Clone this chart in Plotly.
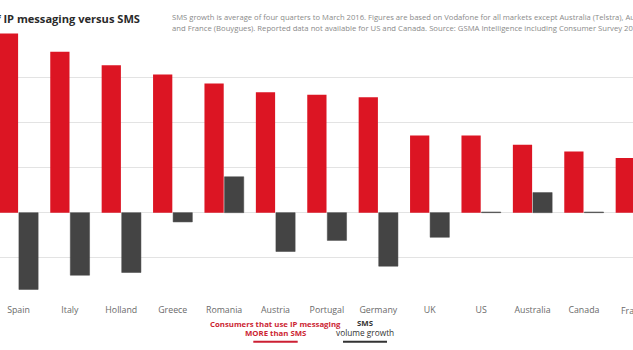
import plotly.graph_objects as go

categories = ["Spain", "Italy", "Holland", "Greece", "Romania", "Austria", "Portugal",
              "Germany", "UK", "US", "Australia", "Canada", "France"]
ip_more_than_sms = [79.3, 71.3, 65.3, 61.2, 57.2, 53.3, 52.2, 51.1, 34.2, 34.2, 30.1, 27.1, 24.2]
sms_volume_growth = [-34.0, -27.7, -26.5, -4.1, 15.9, -17.2, -12.3, -23.7, -10.9, 0.3, 8.9, 0.3, None]

W, H = 633, 350
ML, MR, MT, MB = 0, 0, 32, 47
plot_h = H - MT - MB
X_RANGE = [-0.36, 11.955]

def py(y):
    return (H - MB - y) / plot_h

def px(x):
    return x / W

def cat_paper(i):
    return (i - X_RANGE[0]) / (X_RANGE[1] - X_RANGE[0])

RED = "#dc1523"
GRAY = "#444444"
FONT = "Open Sans"

fig = go.Figure()
fig.add_trace(go.Bar(x=categories, y=ip_more_than_sms, marker=dict(color=RED, line=dict(width=0)),
                     name="Consumers that use IP messaging MORE than SMS"))
fig.add_trace(go.Bar(x=categories, y=sms_volume_growth,
                     marker=dict(color=GRAY, line=dict(color=GRAY, width=0.5)),
                     name="SMS volume growth"))

ann = []
# Title (cropped at left)
ann.append(dict(text="<b>Use of IP messaging versus SMS</b>", x=px(142), y=py(18.5), xref="paper", yref="paper",
                xanchor="right", yanchor="middle", showarrow=False,
                font=dict(family=FONT, size=11.1, color="#2a2a2a")))
note1 = ("SMS growth is average of four quarters to March 2016. Figures are based on Vodafone for all markets "
         "except Australia (Telstra), Austria (A1)")
note2 = ("and France (Bouygues). Reported data not available for US and Canada. Source: GSMA Intelligence "
         "including Consumer Survey 2015")
ann.append(dict(text=note1, x=px(170), y=py(16.7), xref="paper", yref="paper", xanchor="left", yanchor="middle",
                showarrow=False, font=dict(family=FONT, size=7.65, color="#8a8a8a")))
ann.append(dict(text=note2, x=px(170), y=py(27.8), xref="paper", yref="paper", xanchor="left", yanchor="middle",
                showarrow=False, font=dict(family=FONT, size=7.7, color="#8a8a8a")))
# France label lies just past the cropped edge of the axis
ann.append(dict(text=categories[-1], x=cat_paper(len(categories) - 1), y=py(310.7), xref="paper", yref="paper",
                xanchor="center", yanchor="middle", showarrow=False,
                font=dict(family=FONT, size=8.8, color="#6a6a6a")))
# Legend labels
LRED = "#cc1f33"
ann.append(dict(text="<b>Consumers that use IP messaging</b>", x=px(275.5), y=py(324.3), xref="paper", yref="paper",
                xanchor="center", yanchor="middle", showarrow=False, font=dict(family=FONT, size=7.8, color=LRED)))
ann.append(dict(text="<b>MORE than SMS</b>", x=px(275.5), y=py(332.9), xref="paper", yref="paper",
                xanchor="center", yanchor="middle", showarrow=False, font=dict(family=FONT, size=7.8, color=LRED)))
ann.append(dict(text="<b>SMS</b>", x=px(365), y=py(323.3), xref="paper", yref="paper",
                xanchor="center", yanchor="middle", showarrow=False, font=dict(family=FONT, size=7.8, color="#333333")))
ann.append(dict(text="volume growth", x=px(365), y=py(332.9), xref="paper", yref="paper",
                xanchor="center", yanchor="middle", showarrow=False, font=dict(family=FONT, size=8.3, color="#333333")))

shapes = [
    dict(type="line", xref="paper", yref="paper", x0=px(253.3), x1=px(297.7), y0=py(341.7), y1=py(341.7),
         line=dict(color=LRED, width=2)),
    dict(type="line", xref="paper", yref="paper", x0=px(343), x1=px(387), y0=py(341.7), y1=py(341.7),
         line=dict(color="#333333", width=2)),
]

fig.update_layout(
    width=W, height=H,
    margin=dict(l=ML, r=MR, t=MT, b=MB, pad=0),
    paper_bgcolor="white", plot_bgcolor="white",
    barmode="group", bargap=0.22, bargroupgap=0.04,
    showlegend=False,
    annotations=ann, shapes=shapes,
    xaxis=dict(range=X_RANGE, showgrid=False, zeroline=False, showline=False, ticks="",
               tickfont=dict(family=FONT, size=8.8, color="#6a6a6a")),
    yaxis=dict(range=[-40, 80], dtick=20, showgrid=True, gridcolor="#e3e3e3", gridwidth=1,
               zeroline=True, zerolinecolor="#e3e3e3", zerolinewidth=1,
               showticklabels=False, ticks="", showline=False),
)

fig.write_html("out.html")
